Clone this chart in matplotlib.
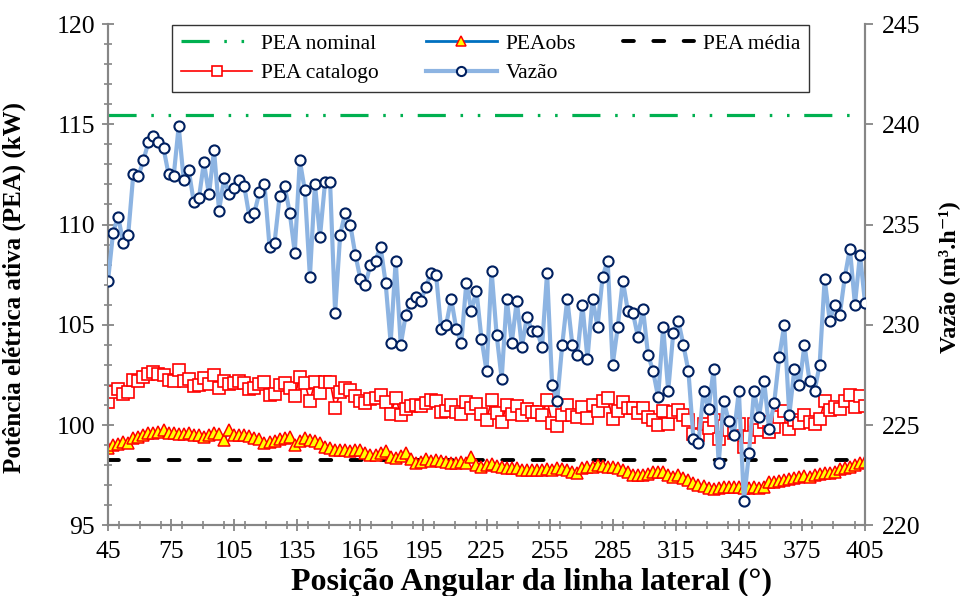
import numpy as np
import matplotlib.pyplot as plt
from matplotlib.lines import Line2D
from matplotlib.ticker import MultipleLocator

plt.rcParams['font.family'] = ['Liberation Serif', 'DejaVu Serif']

# posição angular (graus), leitura a cada 2,4°
angulo = np.round(np.arange(45, 405.01, 2.4), 1)

vazao = [232.2, 234.6, 235.4, 234.1, 234.5, 237.5, 237.4, 238.2, 239.1, 239.4,
         239.1, 238.8, 237.5, 237.4, 239.9, 237.2, 237.7, 236.1, 236.3, 238.1,
         236.5, 238.7, 235.7, 237.3, 236.5, 236.8, 237.2, 236.9, 235.4, 235.6,
         236.6, 237.0, 233.9, 234.1, 236.4, 236.9, 235.6, 233.6, 238.2, 236.7,
         232.4, 237.0, 234.4, 237.1, 237.1, 230.6, 234.5, 235.6, 235.0, 233.5,
         232.3, 232.0, 233.0, 233.2, 233.9, 232.1, 229.1, 233.2, 229.0, 230.5,
         231.1, 231.4, 231.2, 231.9, 232.6, 232.5, 229.8, 230.0, 231.3, 229.8,
         229.1, 232.1, 230.7, 231.7, 229.3, 227.7, 232.7, 229.5, 227.3, 231.3,
         229.1, 231.2, 228.9, 230.4, 229.7, 229.7, 228.9, 232.6, 227.0, 226.2,
         229.0, 231.3, 229.0, 228.5, 231.0, 228.3, 231.3, 229.9, 232.4, 233.2,
         228.0, 229.9, 232.2, 230.7, 230.6, 229.4, 230.8, 228.5, 227.7, 226.4,
         229.9, 226.7, 229.6, 230.2, 229.0, 227.7, 224.3, 224.1, 226.7, 225.8,
         227.8, 223.1, 226.2, 225.2, 224.5, 226.7, 221.2, 223.6, 226.7, 225.4,
         227.2, 224.8, 226.1, 228.4, 230.0, 225.5, 227.8, 227.0, 229.0, 227.2,
         226.7, 228.0, 232.3, 230.2, 231.0, 230.5, 232.4, 233.8, 231.0, 233.5,
         231.1]

pea_catalogo = [101.16, 101.65, 101.81, 101.55, 101.63, 102.24, 102.22, 102.38, 102.57, 102.63,
                102.57, 102.51, 102.24, 102.22, 102.73, 102.18, 102.28, 101.96, 102.00, 102.36,
                102.04, 102.49, 101.87, 102.20, 102.04, 102.10, 102.18, 102.12, 101.81, 101.85,
                102.06, 102.14, 101.51, 101.55, 102.02, 102.12, 101.85, 101.45, 102.38, 102.08,
                101.20, 102.14, 101.61, 102.16, 102.16, 100.83, 101.63, 101.85, 101.73, 101.43,
                101.18, 101.12, 101.32, 101.36, 101.51, 101.14, 100.53, 101.36, 100.51, 100.81,
                100.94, 101.00, 100.96, 101.10, 101.24, 101.22, 100.67, 100.71, 100.98, 100.67,
                100.53, 101.14, 100.85, 101.06, 100.57, 100.24, 101.26, 100.61, 100.16, 100.98,
                100.53, 100.96, 100.49, 100.79, 100.65, 100.65, 100.49, 101.24, 100.10, 99.94,
                100.51, 100.98, 100.51, 100.41, 100.92, 100.36, 100.98, 100.69, 101.20, 101.36,
                100.30, 100.69, 101.16, 100.85, 100.83, 100.59, 100.87, 100.41, 100.24, 99.98,
                100.69, 100.04, 100.63, 100.75, 100.51, 100.24, 99.55, 99.51, 100.04, 99.85,
                100.26, 99.30, 99.94, 99.73, 99.59, 100.04, 98.92, 99.41, 100.04, 99.77,
                100.14, 99.65, 99.92, 100.38, 100.71, 99.79, 100.26, 100.10, 100.51, 100.14,
                100.04, 100.30, 101.18, 100.75, 100.92, 100.81, 101.20, 101.49, 100.92, 101.43,
                100.94]

pea_obs = [98.84, 99.00, 99.06, 99.17, 99.10, 99.34, 99.40, 99.50, 99.58, 99.60,
           99.65, 99.75, 99.58, 99.60, 99.55, 99.55, 99.58, 99.50, 99.50, 99.42,
           99.50, 99.58, 99.55, 99.25, 99.75, 99.50, 99.50, 99.50, 99.45, 99.34,
           99.30, 99.09, 99.15, 99.20, 99.30, 99.35, 99.42, 99.00, 99.20, 99.34,
           99.25, 99.20, 99.09, 98.92, 98.84, 98.75, 98.75, 98.75, 98.72, 98.75,
           98.75, 98.59, 98.50, 98.50, 98.60, 98.72, 98.42, 98.34, 98.45, 98.60,
           98.30, 98.09, 98.15, 98.30, 98.20, 98.25, 98.20, 98.15, 98.09, 98.12,
           98.15, 98.12, 98.42, 97.99, 97.92, 98.00, 98.05, 97.95, 97.90, 97.84,
           97.84, 97.84, 97.76, 97.76, 97.74, 97.76, 97.76, 97.80, 97.76, 97.84,
           97.82, 97.76, 97.67, 97.60, 97.84, 97.92, 97.92, 98.00, 97.96, 97.92,
           97.92, 97.84, 97.76, 97.65, 97.52, 97.50, 97.52, 97.58, 97.67, 97.64,
           97.67, 97.50, 97.42, 97.50, 97.34, 97.26, 97.09, 97.00, 96.96, 96.88,
           96.80, 96.88, 96.93, 96.93, 96.93, 96.90, 96.84, 96.88, 96.90, 96.86,
           96.90, 97.18, 97.18, 97.20, 97.25, 97.31, 97.34, 97.40, 97.45, 97.42,
           97.51, 97.55, 97.60, 97.60, 97.67, 97.80, 97.87, 97.92, 98.00, 98.10,
           98.17]

pea_nominal = 115.45
pea_media = 98.27

fig = plt.figure(figsize=(9.62, 5.96), dpi=100)
ax1 = fig.add_axes([0.1123, 0.1186, 0.7869, 0.8411])
ax2 = ax1.twinx()

cor_eixo = '#868686'
tracejado_nom = (0, (8.8, 4.6, 0.8, 4.6, 0.8, 4.6))
tracejado_med = (0, (2.8, 5.0))

l_cat, = ax1.plot(angulo, pea_catalogo, color='#FF0000', lw=1.2, marker='s', ms=8.3,
                  mfc='white', mec='#FF0000', mew=1.2, zorder=3)
l_obs, = ax1.plot(angulo, pea_obs, color='#0070C0', lw=2, marker='^', ms=8.5,
                  mfc='#FFFF00', mec='#FF0000', mew=1.1, zorder=4)
ax1.axhline(pea_nominal, color='#00B050', lw=2.3, ls=tracejado_nom, zorder=2)
ax1.axhline(pea_media, color='black', lw=2.8, ls=tracejado_med,
            dash_capstyle='round', zorder=2)

l_vaz, = ax2.plot(angulo, vazao, color='#8DB4E2', lw=3, marker='o', ms=7.3,
                  mfc='white', mec='#002060', mew=1.5, zorder=3)

ax1.set_xlim(45, 405)
ax1.set_ylim(95, 120)
ax2.set_ylim(220, 245)
ax1.set_xticks(np.arange(45, 406, 30))
ax1.xaxis.set_minor_locator(MultipleLocator(10))
ax1.set_yticks(np.arange(95, 121, 5))
ax1.yaxis.set_minor_locator(MultipleLocator(1))
ax2.set_yticks(np.arange(220, 246, 5))

for ax in (ax1, ax2):
    ax.spines['top'].set_visible(False)
    for s in ('left', 'right', 'bottom'):
        ax.spines[s].set_color(cor_eixo)
        ax.spines[s].set_linewidth(1.5)

ax1.tick_params(axis='both', which='major', labelsize=18.5, color=cor_eixo,
                direction='inout', length=9, width=1.3)
ax1.tick_params(axis='both', which='minor', color=cor_eixo,
                direction='inout', length=6, width=1.2)
ax1.tick_params(axis='y', pad=5)
ax1.tick_params(axis='x', pad=7)
ax2.tick_params(axis='y', which='major', labelsize=18.5, color=cor_eixo,
                direction='out', length=6, width=1.3, pad=6)

ax1.set_xlabel('Posição Angular da linha lateral (°)', fontsize=23,
               fontweight='bold', labelpad=0)
ax1.xaxis.set_label_coords(0.56, -0.085)
ax1.set_ylabel('Potência elétrica ativa (PEA) (kW)', fontsize=18,
               fontweight='bold')
ax1.yaxis.set_label_coords(-0.108, 0.475)
ax2.set_ylabel('Vazão (m³.h⁻¹)', fontsize=17.5, fontweight='bold')
ax2.yaxis.set_label_coords(1.096, 0.495)

# legenda com as séries dos dois eixos
h_nom = Line2D([], [], color='#00B050', lw=2.3, ls=tracejado_nom)
h_med = Line2D([], [], color='black', lw=2.8, ls=tracejado_med, dash_capstyle='round')
handles = [h_nom, l_cat, l_obs, l_vaz, h_med]
labels = ['PEA nominal', 'PEA catalogo', 'PEAobs', 'Vazão', 'PEA média']
leg = ax2.legend(handles, labels, ncol=3, loc='upper left',
                 bbox_to_anchor=(0.085, 0.998), borderaxespad=0,
                 fontsize=15.5, frameon=True, fancybox=False, edgecolor='black',
                 handlelength=3.3, handletextpad=0.4, columnspacing=2.2,
                 borderpad=0.4, labelspacing=0.45, markerscale=0.9)
leg.get_frame().set_linewidth(1.0)

fig.savefig('out.png', dpi=100)
